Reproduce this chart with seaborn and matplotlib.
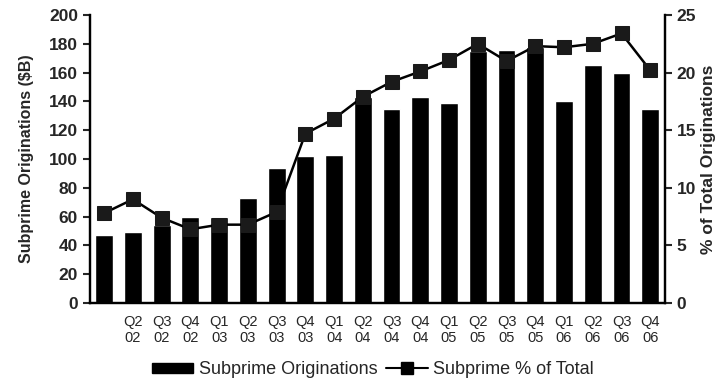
import numpy as np
import pandas as pd
import matplotlib.pyplot as plt
import seaborn as sns
from matplotlib.patches import Patch
from matplotlib.lines import Line2D

# quarterly subprime data
quarters = ["Q1 02", "Q2 02", "Q3 02", "Q4 02", "Q1 03", "Q2 03", "Q3 03", "Q4 03",
            "Q1 04", "Q2 04", "Q3 04", "Q4 04", "Q1 05", "Q2 05", "Q3 05", "Q4 05",
            "Q1 06", "Q2 06", "Q3 06", "Q4 06"]
tick_labels = ["", "Q2\n02", "Q3\n02", "Q4\n02", "Q1\n03", "Q2\n03", "Q3\n03", "Q4\n03",
               "Q1\n04", "Q2\n04", "Q3\n04", "Q4\n04", "Q1\n05", "Q2\n05", "Q3\n05", "Q4\n05",
               "Q1\n06", "Q2\n06", "Q3\n06", "Q4\n06"]
originations = [47, 49, 54, 60, 60, 73, 94, 102, 103, 143, 135, 143, 139, 175, 176, 178,
                140, 165, 160, 135]
pct_total = [7.8, 9.0, 7.4, 6.4, 6.8, 6.8, 7.9, 14.7, 16.0, 17.9, 19.2, 20.1, 21.1, 22.5,
             21.0, 22.3, 22.2, 22.5, 23.4, 20.2]

df = pd.DataFrame({"quarter": quarters, "orig": originations, "pct": pct_total})

sns.set_style("white")
plt.rcParams["font.family"] = ["Liberation Sans", "DejaVu Sans"]

fig = plt.figure(figsize=(7.24, 3.85), dpi=100)
ax = fig.add_axes([0.124, 0.213, 0.794, 0.748])

sns.barplot(data=df, x="quarter", y="orig", color="black", width=0.62,
            saturation=1, ax=ax)
ax.set_xlim(-0.5, len(quarters) - 0.5)
ax.set_ylim(0, 200)
ax.set_yticks(range(0, 201, 20))
ax.set_xticks(range(len(quarters)))
ax.set_xticklabels(tick_labels, fontsize=10.5, linespacing=1.1)
ax.set_xlabel("")
ax.set_ylabel("Subprime Originations ($B)", fontsize=11.5, fontweight="bold", labelpad=11)
ax.tick_params(axis="y", direction="out", length=5, width=1.5, labelsize=12.5, left=True)
for t in ax.get_yticklabels():
    t.set_fontweight("bold")
ax.tick_params(axis="x", length=0, pad=9)

ax2 = ax.twinx()
sns.lineplot(x=np.arange(len(quarters)), y=df["pct"], color="black", linewidth=1.8,
             marker="s", markersize=9.5, markerfacecolor="#1a1a1a",
             markeredgecolor="#1a1a1a", ax=ax2)
ax2.set_ylim(0, 25)
ax2.set_yticks(range(0, 26, 5))
ax2.set_ylabel("% of Total Originations", fontsize=12.5, fontweight="bold",
               rotation=90, labelpad=4)
ax2.tick_params(axis="y", direction="out", length=5, width=1.5, labelsize=12.5, right=True)
for t in ax2.get_yticklabels():
    t.set_fontweight("bold")

for a in (ax, ax2):
    a.spines["top"].set_visible(False)
    for s in ("left", "right", "bottom"):
        a.spines[s].set_linewidth(1.6)
        a.spines[s].set_color("black")

handles = [Patch(facecolor="black", edgecolor="black"),
           Line2D([], [], color="black", linewidth=1.5, marker="s", markersize=8)]
fig.legend(handles, ["Subprime Originations", "Subprime % of Total"],
           loc="center", bbox_to_anchor=(0.515, 0.04), ncol=2, frameon=False,
           handlelength=2.3, handleheight=0.5, columnspacing=0.5,
           handletextpad=0.3, prop={"size": 13})

fig.savefig("out.png", dpi=100)
